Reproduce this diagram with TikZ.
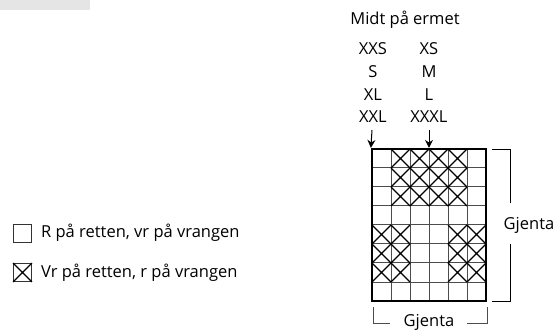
\documentclass[tikz,border=0pt]{standalone}
\usepackage{fontspec}
\setmainfont{Open Sans}
\usetikzlibrary{positioning,arrows.meta}
\tikzset{
    cell-line/.style = {draw=black!70, line width=1pt},
    chart-frame/.style = {draw=black, line width=2.2pt, rectangle, inner sep=0pt, minimum width=114pt, minimum height=152pt},
    stitch-cross/.style = {draw=black, line width=1.2pt},
    chart-text/.style = {font=\fontsize{16.5}{19}\selectfont, inner sep=0pt},
    bracket/.style = {draw=black!70, line width=0.9pt},
    legend-box/.style = {draw=black!80, line width=0.9pt, rectangle, minimum size=18pt, inner sep=0pt},
    size-arrow/.style = {line width=1pt, -{Stealth[length=8pt,width=8pt]}},
}

\begin{document}
\begin{tikzpicture}[x=1pt,y=-1pt]
\useasboundingbox (0,0) rectangle (557,331);
\fill[black!10] (0,0) rectangle (90,10);

% chart grid, 6 x 8 cells
\foreach \r in {1,...,7} \draw[cell-line] (372,149+19*\r) -- (486,149+19*\r);
\foreach \c in {1,...,5} \draw[cell-line] (372+19*\c,149) -- (372+19*\c,301);
\foreach \r in {0,1,2} \foreach \c in {1,...,4}
    \draw[stitch-cross] (372+19*\c,149+19*\r) -- ++(19,19) (391+19*\c,149+19*\r) -- ++(-19,19);
\foreach \r in {4,5,6} \foreach \c in {0,1,4,5}
    \draw[stitch-cross] (372+19*\c,149+19*\r) -- ++(19,19) (391+19*\c,149+19*\r) -- ++(-19,19);
\node[chart-text] (title) at (405,20) {Midt på ermet};
\node[chart-frame] (chart) at (429,225) {};

% sizes
\node[chart-text] (xxs) at (373,49) {XXS};
\node[chart-text] (s) at (373,72) {S};
\node[chart-text] (xl) at (373,95) {XL};
\node[chart-text] (xxl) at (373,117) {XXL};
\node[chart-text] (xs) at (429,49) {XS};
\node[chart-text] (m) at (429,72) {M};
\node[chart-text] (l) at (429,95) {L};
\node[chart-text] (xxxl) at (429,117) {XXXL};
\coordinate (a1) at (372,130);
\coordinate (a2) at (429,130);
\draw[size-arrow] (a1) -- (chart.north west);
\draw[size-arrow] (a2) -- (chart.north);

% repeats
\node[chart-text] (rep-right) at (529,225) {Gjenta};
\draw[bracket, draw=black] (492,149) -| (510,203);
\draw[bracket, draw=black] (510,244) |- (492,301);
\node[chart-text] (rep-bottom) at (429,322) {Gjenta};
\draw[bracket] (373,307) |- (390,323);
\draw[bracket] (467,323) -| (487,307);

% legend
\node[legend-box] (box1) at (22.5,233) {};
\node[legend-box] (box2) at (22.5,272.5) {};
\draw[stitch-cross] (box2.north west) -- (box2.south east) (box2.north east) -- (box2.south west);
\node[chart-text, right=9pt of box1] (txt1) {R på retten, vr på vrangen};
\node[chart-text, right=9pt of box2] (txt2) {Vr på retten, r på vrangen};
\end{tikzpicture}
\end{document}
